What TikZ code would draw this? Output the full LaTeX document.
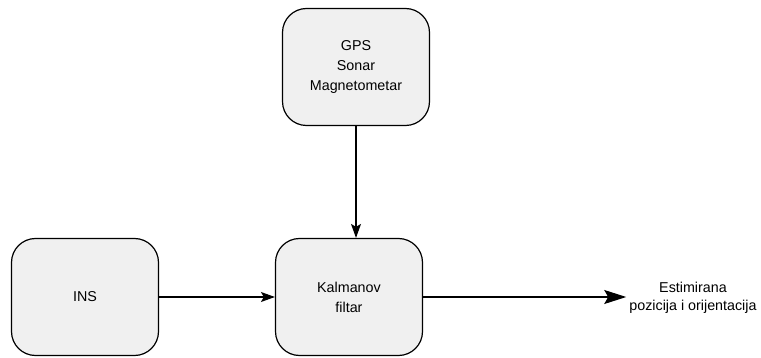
\documentclass[tikz,border=0pt]{standalone}
\usepackage{fontspec}
\setmainfont{Liberation Sans}
\usetikzlibrary{arrows.meta}
\definecolor{boxfill}{RGB}{240,240,240}

\begin{document}
\begin{tikzpicture}[x=1pt,y=-1pt,
  block/.style={draw,line width=1.2pt,rounded corners=24pt,fill=boxfill,
    minimum width=147pt,minimum height=117pt,align=center,
    font=\fontsize{14.3}{20}\selectfont},
  flow/.style={line width=1.1pt,-{Stealth[length=14pt,width=10pt,inset=3pt]}}]
  \useasboundingbox (0,0) rectangle (761,358);
  \node[block] (sensors) at (356,67) {GPS\\Sonar\\Magnetometar};
  \node[block] (ins) at (85,297) {INS};
  \node[block] (kalman) at (349,297) {Kalmanov\\filtar};
  \node[align=center,inner sep=3pt,font=\fontsize{14.3}{18}\selectfont] (estimate) at (693,298) {Estimirana\\pozicija i orijentacija};
  \draw[flow] (sensors.south) -- (sensors.south |- kalman.north);
  \draw[flow] (ins) -- (kalman);
  \draw[line width=1.1pt,-{Stealth[length=22pt,width=14pt,inset=4pt]}] (kalman) -- (estimate.west |- kalman);
\end{tikzpicture}
\end{document}
